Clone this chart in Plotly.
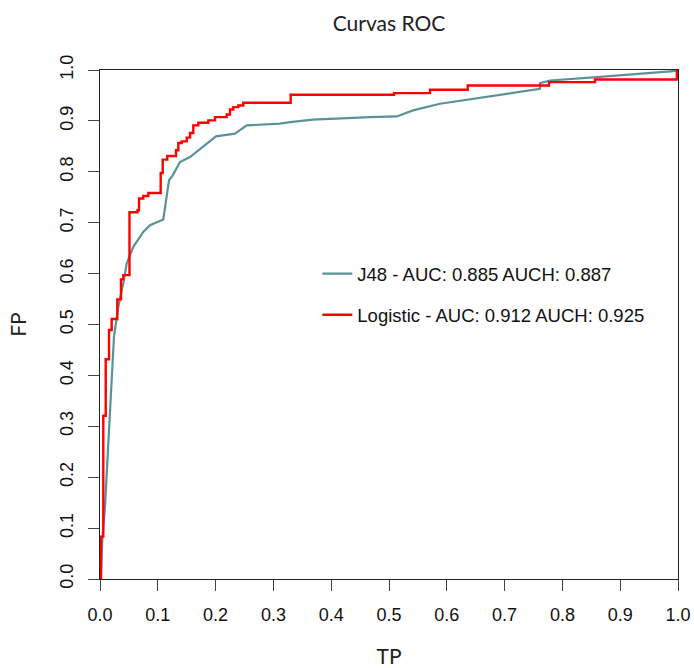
import plotly.graph_objects as go

# J48 ROC curve
j48_x = [0, 0.0017, 0.0040, 0.0087, 0.0126, 0.0161, 0.0202, 0.0242, 0.0317, 0.0403,
         0.0462, 0.0490, 0.0576, 0.0749, 0.0865, 0.1095, 0.1194, 0.1258, 0.1384, 0.1557,
         0.1846, 0.2007, 0.2336, 0.2538, 0.3114, 0.3287, 0.3685, 0.4182, 0.4671, 0.5133,
         0.5415, 0.5882, 0.6401, 0.6978, 0.7612, 0.7612, 0.7785, 0.8593, 0.9170, 0.9919, 1.0]
j48_y = [0, 0.0029, 0.0775, 0.1427, 0.2284, 0.3069, 0.3976, 0.4761, 0.5349, 0.5808,
         0.6200, 0.6284, 0.6525, 0.6820, 0.6951, 0.7063, 0.7833, 0.7931, 0.8192, 0.8290,
         0.8553, 0.8696, 0.8749, 0.8912, 0.8945, 0.8976, 0.9024, 0.9055, 0.9075, 0.9088,
         0.9206, 0.9337, 0.9422, 0.9514, 0.9631, 0.9741, 0.9794, 0.9859, 0.9912, 0.9976, 1.0]

# Logistic ROC curve (step curve: x of each riser, level after rising)
log_x = [0.0017, 0.0017, 0.0057, 0.0099, 0.0156, 0.0202, 0.0299, 0.0363, 0.0403, 0.0510,
         0.0649, 0.0675, 0.0749, 0.0836, 0.1050, 0.1085, 0.1164, 0.1315, 0.1355, 0.1413,
         0.1500, 0.1557, 0.1614, 0.1701, 0.1874, 0.1990, 0.2192, 0.2249, 0.2306, 0.2393,
         0.2479, 0.3299, 0.5087, 0.5709, 0.6362, 0.7768, 0.8564, 0.998]
log_y = [0, 0.0833, 0.3206, 0.4318, 0.4892, 0.5108, 0.5494, 0.5886, 0.5971, 0.7206,
         0.7245, 0.7475, 0.7525, 0.7584, 0.7976, 0.8239, 0.8310, 0.8422, 0.8565, 0.8598,
         0.8671, 0.8761, 0.8912, 0.8965, 0.9010, 0.9075, 0.9127, 0.9225, 0.9271, 0.9304,
         0.9357, 0.9514, 0.9545, 0.9612, 0.9696, 0.9761, 0.9814, 1.0]

series_names = ["J48 - AUC: 0.885 AUCH: 0.887", "Logistic - AUC: 0.912 AUCH: 0.925"]
tick_vals = [0, 0.1, 0.2, 0.3, 0.4, 0.5, 0.6, 0.7, 0.8, 0.9, 1.0]
tick_text = ["0.0", "0.1", "0.2", "0.3", "0.4", "0.5", "0.6", "0.7", "0.8", "0.9", "1.0"]

TEAL = "#5b9297"
RED = "#ff0000"
TICKFONT = dict(family="Liberation Sans, Arial", size=18, color="#111")
TITLEFONT = dict(family="Lato, sans-serif", size=21, color="#222")

fig = go.Figure()
fig.add_trace(go.Scatter(x=j48_x, y=j48_y, mode="lines", name=series_names[0],
                         line=dict(color=TEAL, width=2.2), legendgroup="a"))
fig.add_trace(go.Scatter(x=log_x, y=log_y, mode="lines", name=series_names[1],
                         line=dict(color=RED, width=2.4, shape="hv"), legendgroup="b"))

axis_common = dict(
    range=[0, 1], tickvals=tick_vals, ticktext=tick_text, showgrid=False, zeroline=False,
    showline=True, mirror=True, linecolor="#222", linewidth=1.3,
    ticks="outside", ticklen=11, tickcolor="#444", tickwidth=1.3,
    tickfont=TICKFONT, automargin=False,
)

fig.update_xaxes(**axis_common, ticklabelstandoff=8,
                 title=dict(text="TP", font=TITLEFONT, standoff=28))
fig.update_yaxes(**axis_common, tickangle=-90, ticklabelstandoff=8,
                 title=dict(text="FP", font=TITLEFONT, standoff=24))

fig.update_layout(
    width=694, height=668,
    margin=dict(l=100, r=16, t=69.5, b=88.5),
    paper_bgcolor="white", plot_bgcolor="white",
    title=dict(text="Curvas ROC", font=TITLEFONT, x=(100 + 289) / 694, xanchor="center",
               y=1 - 24 / 668, yanchor="middle"),
    showlegend=True,
    legend=dict(x=0.376, y=(579.5 - 255) / 510, xanchor="left", yanchor="top",
                bgcolor="rgba(0,0,0,0)", font=dict(family="Liberation Sans, Arial", size=18.5, color="#111"),
                tracegroupgap=14, itemwidth=30),
)

fig.write_html("out.html")
